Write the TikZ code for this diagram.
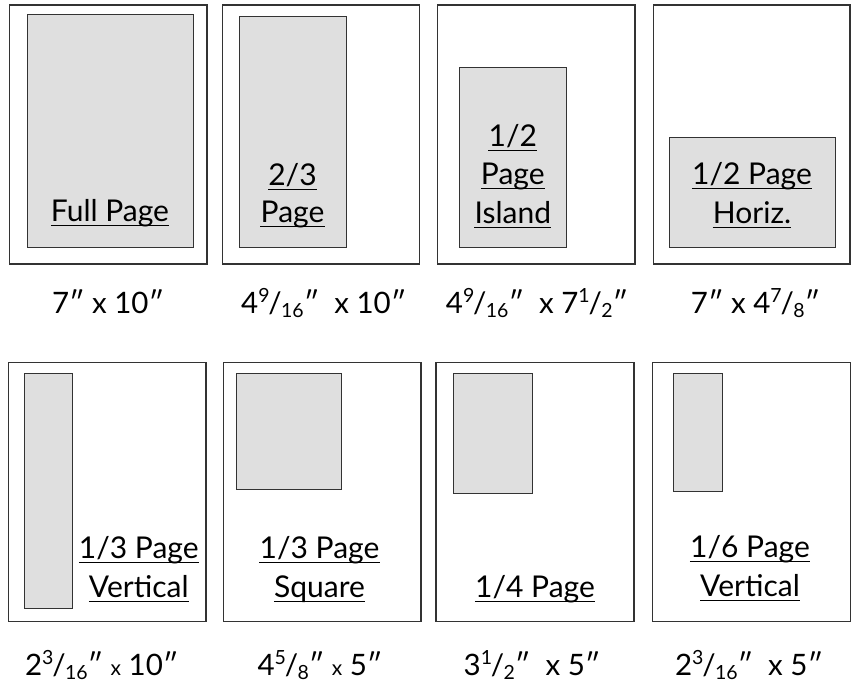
\documentclass[tikz,border=0pt]{standalone}
\usepackage{fontspec}
\setmainfont{Lato}
\newcommand\myfr[2]{\raisebox{.36em}{\fontsize{19.5}{19.5}\selectfont #1}\kern-.04em/\kern-.02em\raisebox{-.16em}{\fontsize{19.5}{19.5}\selectfont #2}}
\newcommand\smx{{\fontsize{21}{21}\selectfont x}}
\tikzset{
  page/.style={draw=black!80, line width=1.2pt, fill=white},
  ad/.style={draw=black!80, line width=1pt, fill=gray!25},
  txt/.style={anchor=base, inner sep=0pt, font=\fontsize{30}{30}\selectfont},
  dim/.style={anchor=base, inner sep=0pt, font=\fontsize{29.5}{29.5}\selectfont},
  ulline/.style={draw=black, line width=0.9pt}
}
\newcommand\boxlab[4]{\node[txt] (#1) at (#2,#3) {#4};
  \draw[ulline] ([yshift=-4pt]#1.base west) -- ([yshift=-4pt]#1.base east);}
\begin{document}
\begin{tikzpicture}[x=1pt,y=-1pt]
\useasboundingbox (0,0) rectangle (854,685);
% top row pages
\draw[page] (9.5,5) rectangle (207,264);
\draw[page] (222.3,5) rectangle (419.3,264);
\draw[page] (437.7,5) rectangle (635,264);
\draw[page] (653.3,5) rectangle (850,264);
\draw[ad] (27,15) rectangle (193,247);
\draw[ad] (239,16.5) rectangle (346,247);
\draw[ad] (459.3,68) rectangle (566.3,247);
\draw[ad] (669.3,137) rectangle (835,247);
% bottom row pages
\draw[page] (8.3,362.3) rectangle (206,621.7);
\draw[page] (223.3,362.3) rectangle (421,621.7);
\draw[page] (436,362.3) rectangle (634,621.7);
\draw[page] (652.7,362.3) rectangle (850.7,621.7);
\draw[ad] (24,373.3) rectangle (72.7,608.3);
\draw[ad] (236,373.3) rectangle (341,489);
\draw[ad] (453.3,373.3) rectangle (532.7,493.3);
\draw[ad] (673.3,373.3) rectangle (722,491);
% box labels
\boxlab{fp}{110}{221}{Full Page}
\boxlab{tta}{292.5}{185}{2/3}
\boxlab{ttb}{292.5}{222.5}{Page}
\boxlab{hia}{512.8}{146}{1/2}
\boxlab{hib}{512.8}{184.5}{Page}
\boxlab{hic}{512.8}{223}{Island}
\boxlab{hha}{752}{184.5}{1/2 Page}
\boxlab{hhb}{752}{223}{Horiz.}
\boxlab{tva}{138.8}{558}{1/3 Page}
\boxlab{tvb}{138.8}{597}{Vertical}
\boxlab{tsa}{319.5}{558}{1/3 Page}
\boxlab{tsb}{319.5}{597}{Square}
\boxlab{qp}{535}{597}{1/4 Page}
\boxlab{sva}{750}{557.5}{1/6 Page}
\boxlab{svb}{750}{596.5}{Vertical}
% dimensions
\node[dim] (d1) at (108,313) {7″ x 10″};
\node[dim] (d2) at (323.7,313) {4\myfr{9}{16}″\ \ x 10″};
\node[dim] (d3) at (537,313) {4\myfr{9}{16}″\ \ x 7\myfr{1}{2}″};
\node[dim] (d4) at (755.5,313) {7″ x 4\myfr{7}{8}″};
\node[dim] (d5) at (101.7,675) {2\myfr{3}{16}″ \smx{} 10″};
\node[dim] (d6) at (320,675) {4\myfr{5}{8}″ \smx{} 5″};
\node[dim] (d7) at (532,675) {3\myfr{1}{2}″\ \ x 5″};
\node[dim] (d8) at (749,675) {2\myfr{3}{16}″\ \ x 5″};
\end{tikzpicture}
\end{document}
